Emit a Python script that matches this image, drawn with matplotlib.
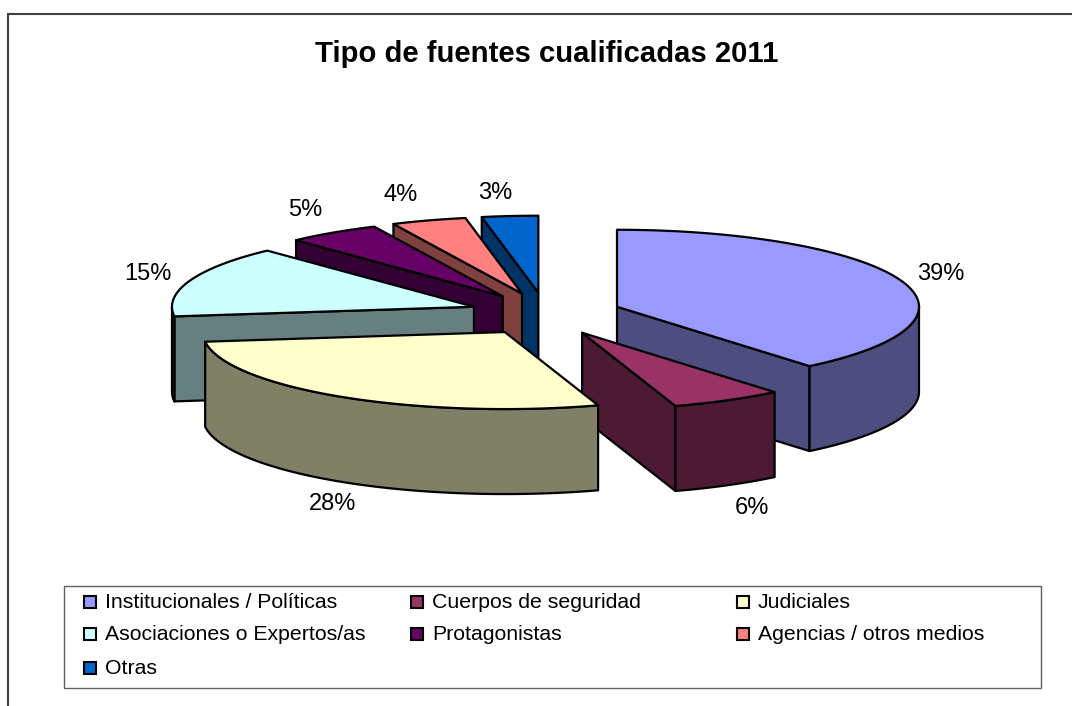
import numpy as np
import matplotlib
matplotlib.use('Agg')
import matplotlib.pyplot as plt
from matplotlib.patches import Rectangle

plt.rcParams['font.family'] = ['Liberation Sans', 'DejaVu Sans']

TITLE = 'Tipo de fuentes cualificadas 2011'
categories = ['Institucionales / Políticas', 'Cuerpos de seguridad', 'Judiciales',
              'Asociaciones o Expertos/as', 'Protagonistas', 'Agencias / otros medios', 'Otras']
values = [39, 6, 28, 15, 5, 4, 3]
top_colors = ['#9999FF', '#993366', '#FFFFCC', '#CCFFFF', '#660066', '#FF8080', '#0066CC']
side_colors = ['#4D4D80', '#4D1A33', '#808066', '#667F7F', '#330033', '#804040', '#003366']

# pie layout in pixels
CX, CY = 545.5, 314
RX, RY = 302, 77
DEPTH = 85
EXPLODE_X, EXPLODE_Y = 76, 21.4
draw_order = [0, 1, 6, 5, 4, 3, 2]
label_pos = [(941, 274), (752, 508), (333, 504), (148, 274), (305, 210), (401, 195), (495, 193)]
legend_cols = [84, 411, 737]
legend_rows = [601.5, 634, 667.5]

fig = plt.figure(figsize=(10.72, 7.06), dpi=100)
ax = fig.add_axes([0, 0, 1, 1])
ax.set_xlim(0, 1072)
ax.set_ylim(706, 0)
ax.axis('off')

# chart frame, only top and left are in the picture
ax.plot([8, 8, 1072], [706, 14, 14], color='#404040', lw=1.5, solid_joinstyle='miter')


def point(ox, oy, deg):
    a = np.radians(deg)
    return ox + RX * np.sin(a), oy - RY * np.cos(a)


def cut_face(ox, oy, deg, color):
    x, y = point(ox, oy, deg)
    ax.fill([ox, x, x, ox], [oy, y, y + DEPTH, oy + DEPTH], facecolor=color,
            edgecolor='black', lw=1.6, joinstyle='round')


ends = np.cumsum(values) * 360 / sum(values)
starts = np.concatenate([[0], ends[:-1]])

for i in draw_order:
    start, end = starts[i], ends[i]
    mid = np.radians((start + end) / 2)
    ox = CX + EXPLODE_X * np.sin(mid)
    oy = CY - EXPLODE_Y * np.cos(mid)

    # the cut sides that face the viewer
    if 180 < start < 360:
        cut_face(ox, oy, start, side_colors[i])
    if 0 < end < 180:
        cut_face(ox, oy, end, side_colors[i])

    # outer rim, front half of the ellipse only
    r0, r1 = max(start, 90), min(end, 270)
    if r1 > r0:
        t = np.linspace(r0, r1, 80)
        x, y = point(ox, oy, t)
        ax.fill(np.r_[x, x[::-1]], np.r_[y, y[::-1] + DEPTH], facecolor=side_colors[i],
                edgecolor='black', lw=1.6, joinstyle='round')

    # top face
    t = np.linspace(start, end, 120)
    x, y = point(ox, oy, t)
    ax.fill(np.r_[ox, x], np.r_[oy, y], facecolor=top_colors[i],
            edgecolor='black', lw=1.6, joinstyle='round')

for v, (x, y) in zip(values, label_pos):
    ax.text(x, y, f'{v}%', ha='center', va='center', fontsize=17, color='black')

ax.text(546.5, 62, TITLE, ha='center', va='baseline', fontsize=21.1, fontweight='bold', color='black')

# legend box, filled row by row like the original
ax.add_patch(Rectangle((64, 586), 977, 102, facecolor='white', edgecolor='#606060', lw=1))
for i, name in enumerate(categories):
    lx = legend_cols[i % 3]
    ly = legend_rows[i // 3]
    ax.add_patch(Rectangle((lx, ly - 6), 12, 12, facecolor=top_colors[i], edgecolor='black', lw=1.5))
    ax.text(lx + 21, ly + 6.5, name, ha='left', va='baseline', fontsize=15.3, color='black')

fig.savefig('out.png', dpi=100)
